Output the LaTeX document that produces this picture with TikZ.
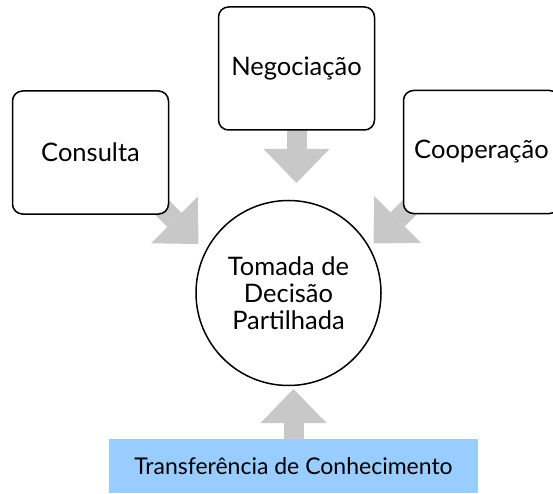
\documentclass[tikz,border=0pt]{standalone}
\usepackage{fontspec}
\setmainfont{Lato}
\usetikzlibrary{arrows.meta,backgrounds}
\definecolor{arrowgray}{RGB}{200,200,200}
\definecolor{tfblue}{RGB}{153,204,255}
\begin{document}
\begin{tikzpicture}[x=1pt,y=-1pt,
  box/.style={draw, line width=1.5pt, rounded corners=10pt, fill=white,
    minimum width=156pt, minimum height=123pt, inner sep=0pt, outer sep=0pt,
    font=\fontsize{25.5}{27}\selectfont},
  hub/.style={draw, circle, line width=1.5pt, fill=white, minimum size=185pt,
    inner sep=0pt, outer sep=0pt, align=center, font=\fontsize{25.5}{27}\selectfont},
  band/.style={fill=tfblue, minimum width=369pt, minimum height=54pt,
    inner sep=0pt, outer sep=0pt, font=\fontsize{23}{26}\selectfont},
  barrow/.style={draw=arrowgray, line width=20pt,
    -{Triangle[length=34pt,width=66pt,line width=0pt]}}
]
\useasboundingbox (0,0) rectangle (553,494);
\clip (0,0) rectangle (553,494);

\node[box] (cons) at (90.5,152.5) {Consulta};
\node[box] (neg) at (296.5,68.5) {Negociação};
\node[box] (coop) at (481.5,152) {Cooperação};
\node[hub] (hub) at (288.5,293) {Tomada de\\Decisão\\Partilhada};
\node[band] (tf) at (293.5,466) {Transferência de Conhecimento};

\path (cons.south east) ++(30,30) coordinate (tipc);
\path (neg.south) ++(0,53) coordinate (tipn);
\path (coop.south west) ++(-30,30) coordinate (tipk);
\path (tf.north) ++(0,-50) coordinate (tipt);

\begin{scope}[on background layer]
  \draw[barrow, shorten <=-12pt] (cons.south east) -- (tipc);
  \draw[barrow, shorten <=-3pt] (neg.south) -- (tipn);
  \draw[barrow, shorten <=-12pt] (coop.south west) -- (tipk);
  \draw[barrow, shorten <=-1pt] (tf.north) -- (tipt);
\end{scope}
\end{tikzpicture}
\end{document}
